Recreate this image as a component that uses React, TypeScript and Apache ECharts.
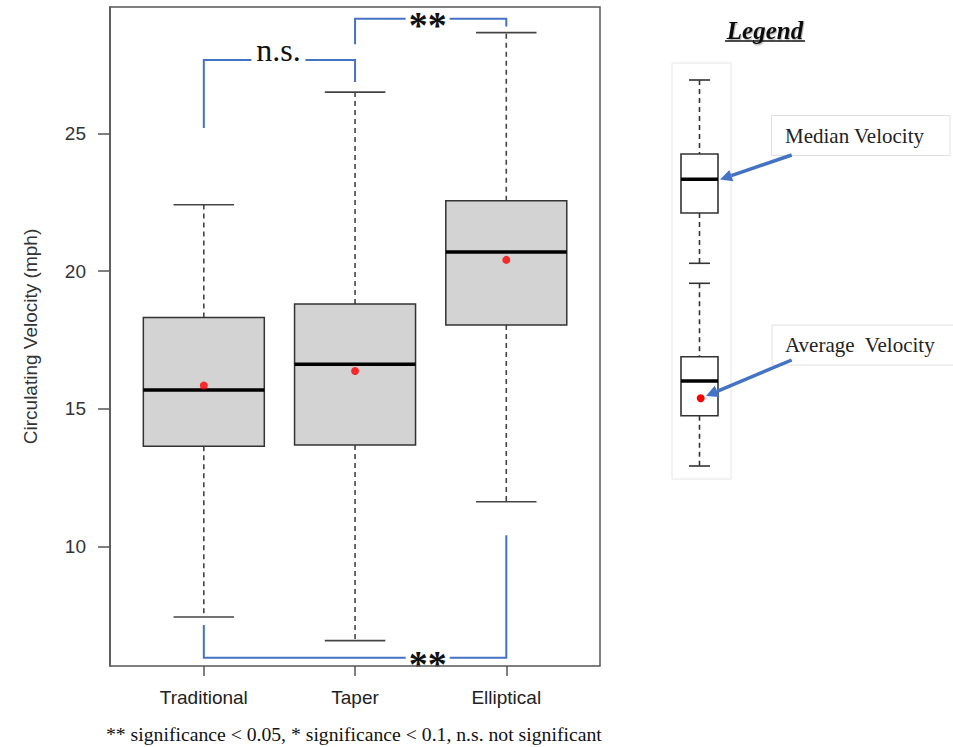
import React, { useEffect, useRef } from "react";
import * as echarts from "echarts";

// ---- data ----
const categories = ["Traditional", "Taper", "Elliptical"];
const whiskerLow = [7.45, 6.59, 11.63];
const q1 = [13.65, 13.69, 18.05];
const median = [15.69, 16.62, 20.7];
const q3 = [18.32, 18.81, 22.56];
const whiskerHigh = [22.41, 26.5, 28.66];
const means = [15.85, 16.38, 20.41];

const yTicks = [10, 15, 20, 25];
const yMin = 5.67;
const yMax = 29.59;

// significance brackets (category indices, values in mph)
const bracketLabels = ["n.s.", "**", "**"];
const bracketFrom = [0, 1, 0];
const bracketTo = [1, 2, 2];
const bracketStartY = [25.2, 28.24, 7.16];
const bracketBarY = [27.67, 29.16, 5.97];
const bracketEndY = [26.87, 28.88, 10.42];
const bracketLabelAt = [0.5, 1.5, 1.5];

const footnote =
  "** significance < 0.05, * significance < 0.1, n.s. not significant";

const BLUE = "#4472C4";
const SERIF = "'Liberation Serif', 'Times New Roman', serif";
const SANS = "'Liberation Sans', Arial, sans-serif";

function arrow(x1: number, y1: number, x2: number, y2: number) {
  const dx = x2 - x1;
  const dy = y2 - y1;
  const len = Math.sqrt(dx * dx + dy * dy);
  const ux = dx / len;
  const uy = dy / len;
  const hl = 12;
  const hw = 6;
  const bx = x2 - ux * hl;
  const by = y2 - uy * hl;
  const nx = -uy;
  const ny = ux;
  return [
    {
      type: "line",
      shape: { x1, y1, x2: bx, y2: by },
      style: { stroke: BLUE, lineWidth: 3.5 },
    },
    {
      type: "polygon",
      shape: {
        points: [
          [x2, y2],
          [bx + nx * hw, by + ny * hw],
          [bx - nx * hw, by - ny * hw],
        ],
      },
      style: { fill: BLUE },
    },
  ];
}

function miniBox(capTop: number, boxTop: number, med: number, boxBot: number, capBot: number) {
  const cx = 699.5;
  const dash = { stroke: "#333", lineWidth: 1.6, lineDash: [5, 4] };
  return [
    { type: "line", shape: { x1: 689, y1: capTop, x2: 710, y2: capTop }, style: { stroke: "#333", lineWidth: 1.6 } },
    { type: "line", shape: { x1: cx, y1: capTop, x2: cx, y2: boxTop }, style: dash },
    { type: "rect", shape: { x: 681, y: boxTop, width: 37, height: boxBot - boxTop }, style: { fill: "#fff", stroke: "#333", lineWidth: 1.6 } },
    { type: "line", shape: { x1: 681, y1: med, x2: 718, y2: med }, style: { stroke: "#000", lineWidth: 3.5 } },
    { type: "line", shape: { x1: cx, y1: boxBot, x2: cx, y2: capBot }, style: dash },
    { type: "line", shape: { x1: 689, y1: capBot, x2: 710, y2: capBot }, style: { stroke: "#333", lineWidth: 1.6 } },
  ];
}

export default function App() {
  const ref = useRef<HTMLDivElement>(null);

  useEffect(() => {
    if (!ref.current) return;
    const chart = echarts.init(ref.current, undefined, { renderer: "svg" });

    const boxData = categories.map((_, i) => [
      i,
      whiskerLow[i],
      q1[i],
      median[i],
      q3[i],
      whiskerHigh[i],
    ]);
    const meanData = means.map((m, i) => [i, m]);
    const bracketData = bracketLabels.map((_, k) => [bracketFrom[k], bracketStartY[k]]);

    const option: any = {
      animation: false,
      backgroundColor: "#ffffff",
      grid: { left: 128.2, width: 453.7, top: 7, height: 659 },
      xAxis: {
        type: "category",
        data: categories,
        boundaryGap: true,
        axisLine: { show: false },
        axisTick: {
          show: true,
          alignWithLabel: true,
          length: 10,
          lineStyle: { color: "#555", width: 1.5 },
        },
        axisLabel: {
          margin: 22,
          fontSize: 19,
          fontFamily: SANS,
          color: "#222",
        },
        splitLine: { show: false },
      },
      yAxis: {
        type: "value",
        min: yMin,
        max: yMax,
        offset: 18.2,
        name: "Circulating Velocity (mph)",
        nameLocation: "middle",
        nameRotate: 90,
        nameGap: 70,
        nameTextStyle: { fontSize: 19, fontFamily: SANS, color: "#333" },
        axisLine: { show: true, lineStyle: { color: "#555", width: 1.5 } },
        axisTick: {
          show: true,
          length: 12,
          customValues: yTicks,
          lineStyle: { color: "#555", width: 1.5 },
        },
        axisLabel: {
          customValues: yTicks,
          margin: 24,
          fontSize: 19,
          fontFamily: SANS,
          color: "#333",
        },
        splitLine: { show: false },
      },
      graphic: [
        {
          type: "rect",
          shape: { x: 110, y: 7, width: 490, height: 659 },
          style: { fill: "none", stroke: "#555", lineWidth: 1.5 },
          z: 100,
        },
        {
          type: "text",
          x: 106,
          y: 734,
          style: { text: footnote, font: `19.7px ${SERIF}`, fill: "#111", align: "left", verticalAlign: "middle" },
        },
        // legend panel
        {
          type: "text",
          x: 765,
          y: 30,
          style: {
            text: "Legend",
            font: `italic bold 25px ${SERIF}`,
            fill: "#111",
            align: "center",
            verticalAlign: "middle",
            textShadowColor: "rgba(0,0,0,0.25)",
            textShadowOffsetX: 1,
            textShadowOffsetY: 1.5,
            textShadowBlur: 1,
          },
        },
        { type: "line", shape: { x1: 725, y1: 41, x2: 805, y2: 41 }, style: { stroke: "#111", lineWidth: 1.5 } },
        { type: "rect", shape: { x: 672, y: 63, width: 59, height: 416 }, style: { fill: "none", stroke: "#e6e6e6", lineWidth: 1 } },
        ...miniBox(80, 154, 179.3, 213, 263.3),
        ...miniBox(283.3, 356.7, 381, 415.7, 466),
        { type: "circle", shape: { cx: 700.7, cy: 398.3, r: 4 }, style: { fill: "#ff0000" } },
        { type: "rect", shape: { x: 771.5, y: 115.5, width: 178.5, height: 40 }, style: { fill: "#fff", stroke: "#e0e0e0", lineWidth: 1 } },
        {
          type: "text",
          x: 785,
          y: 136,
          style: { text: "Median Velocity", font: `21px ${SERIF}`, fill: "#222", align: "left", verticalAlign: "middle" },
        },
        { type: "rect", shape: { x: 772, y: 325, width: 190, height: 40 }, style: { fill: "#fff", stroke: "#e0e0e0", lineWidth: 1 } },
        {
          type: "text",
          x: 785,
          y: 345,
          style: { text: "Average  Velocity", font: `21px ${SERIF}`, fill: "#222", align: "left", verticalAlign: "middle" },
        },
        ...arrow(791.7, 155, 720, 179.5),
        ...arrow(791.7, 360, 706, 396),
      ],
      series: [
        {
          type: "custom",
          data: boxData,
          encode: { x: 0, y: [1, 2, 3, 4, 5] },
          z: 2,
          renderItem: (params: any, api: any) => {
            const i = api.value(0);
            const bw = api.size([1, 0])[0] * 0.8;
            const capW = bw / 2;
            const pLo = api.coord([i, api.value(1)]);
            const pQ1 = api.coord([i, api.value(2)]);
            const pMed = api.coord([i, api.value(3)]);
            const pQ3 = api.coord([i, api.value(4)]);
            const pHi = api.coord([i, api.value(5)]);
            const cx = pLo[0];
            const dash = { stroke: "#444", lineWidth: 1.6, lineDash: [5, 4] };
            const solid = { stroke: "#444", lineWidth: 1.6 };
            return {
              type: "group",
              children: [
                { type: "line", shape: { x1: cx, y1: pQ3[1], x2: cx, y2: pHi[1] }, style: dash },
                { type: "line", shape: { x1: cx, y1: pQ1[1], x2: cx, y2: pLo[1] }, style: dash },
                { type: "line", shape: { x1: cx - capW / 2, y1: pHi[1], x2: cx + capW / 2, y2: pHi[1] }, style: solid },
                { type: "line", shape: { x1: cx - capW / 2, y1: pLo[1], x2: cx + capW / 2, y2: pLo[1] }, style: solid },
                {
                  type: "rect",
                  shape: { x: cx - bw / 2, y: pQ3[1], width: bw, height: pQ1[1] - pQ3[1] },
                  style: { fill: "#D3D3D3", stroke: "#333", lineWidth: 1.5 },
                },
                {
                  type: "line",
                  shape: { x1: cx - bw / 2, y1: pMed[1], x2: cx + bw / 2, y2: pMed[1] },
                  style: { stroke: "#000", lineWidth: 3.5 },
                },
              ],
            };
          },
        },
        {
          type: "scatter",
          data: meanData,
          symbol: "circle",
          symbolSize: 8,
          itemStyle: { color: "#ff0000" },
          z: 5,
        },
        {
          type: "custom",
          data: bracketData,
          encode: { x: 0, y: 1 },
          z: 6,
          renderItem: (params: any, api: any) => {
            const k = params.dataIndex;
            const label = bracketLabels[k];
            const a = bracketFrom[k];
            const b = bracketTo[k];
            const pStart = api.coord([a, bracketStartY[k]]);
            const pBarA = api.coord([a, bracketBarY[k]]);
            const pBarB = api.coord([b, bracketBarY[k]]);
            const pEnd = api.coord([b, bracketEndY[k]]);
            const x0 = api.coord([0, bracketBarY[k]])[0];
            const x1 = api.coord([1, bracketBarY[k]])[0];
            const lx = x0 + (x1 - x0) * bracketLabelAt[k] - (label === "n.s." ? 1 : 3);
            const isNs = label === "n.s.";
            const gap = isNs ? 27 : 22;
            const font = isNs ? `32px ${SERIF}` : `bold 38px ${SERIF}`;
            const ty = pBarA[1] + (isNs ? -10 : 6);
            const st = { stroke: BLUE, lineWidth: 2, fill: "none" };
            return {
              type: "group",
              children: [
                {
                  type: "polyline",
                  shape: { points: [pStart, pBarA, [lx - gap, pBarA[1]]] },
                  style: st,
                },
                {
                  type: "polyline",
                  shape: { points: [[lx + gap, pBarB[1]], pBarB, pEnd] },
                  style: st,
                },
                {
                  type: "text",
                  style: {
                    text: label,
                    x: lx,
                    y: ty,
                    font,
                    fill: "#111",
                    align: "center",
                    verticalAlign: "middle",
                  },
                },
              ],
            };
          },
        },
      ],
    };

    chart.setOption(option);
    return () => chart.dispose();
  }, []);

  return (
    <div
      ref={ref}
      style={{ position: "fixed", left: 0, top: 0, width: 953, height: 747, background: "#fff" }}
    />
  );
}
